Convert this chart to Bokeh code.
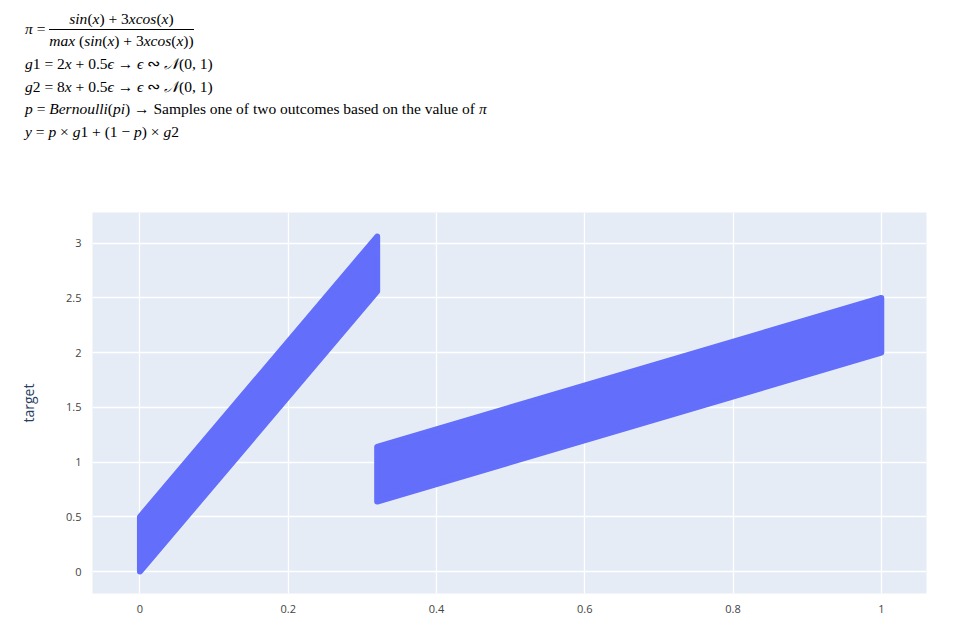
from bokeh.plotting import figure
from bokeh.models import Div, Range1d, FixedTicker
from bokeh.layouts import column
from bokeh.embed import file_html
from bokeh.resources import INLINE

# band corners (x, lower/upper y)
band1_x = [0.0, 0.32]
band1_lo = [0.0, 2.56]
band1_hi = [0.5, 3.06]
band2_x = [0.32, 1.0]
band2_lo = [0.64, 2.0]
band2_hi = [1.14, 2.5]
x_ticks = [0, 0.2, 0.4, 0.6, 0.8, 1]
y_ticks = [0, 0.5, 1, 1.5, 2, 2.5, 3]

title_html = """
<div style="font-family:'Liberation Serif';font-size:15.5px;color:#000;line-height:22.5px;padding-left:20px">
<div style="display:flex;align-items:center;height:48px"><i>&pi;</i>&nbsp;=&nbsp;
<div style="display:inline-block;text-align:center;line-height:21px">
<div style="border-bottom:1px solid #000;padding:0 2px"><i>sin</i>(<i>x</i>) + 3<i>xcos</i>(<i>x</i>)</div>
<div><i>max</i> (<i>sin</i>(<i>x</i>) + 3<i>xcos</i>(<i>x</i>))</div></div></div>
<div><i>g</i>1 = 2<i>x</i> + 0.5<i>&#1013;</i> &rarr; <i>&#1013;</i> &#8766; <i>&#119977;</i>(0, 1)</div>
<div><i>g</i>2 = 8<i>x</i> + 0.5<i>&#1013;</i> &rarr; <i>&#1013;</i> &#8766; <i>&#119977;</i>(0, 1)</div>
<div><i>p</i> = <i>Bernoulli</i>(<i>pi</i>) &rarr; Samples one of two outcomes based on the value of <i>&pi;</i></div>
<div><i>y</i> = <i>p</i> &times; <i>g</i>1 + (1 &minus; <i>p</i>) &times; <i>g</i>2</div>
</div>
"""
title = Div(text=title_html, width=960, height=190)

p = figure(width=963, height=415, output_backend="svg", toolbar_location=None,
           x_range=Range1d(-0.064, 1.061), y_range=Range1d(-0.2, 3.28),
           min_border_left=92, min_border_right=37, min_border_top=12, min_border_bottom=19)
p.background_fill_color = "#E5ECF6"
p.outline_line_color = None
p.grid.grid_line_color = "white"
p.grid.grid_line_width = 1.3
for ax in (p.xaxis[0], p.yaxis[0]):
    ax.axis_line_color = None
    ax.major_tick_line_color = None
    ax.minor_tick_line_color = None
    ax.major_label_text_font = "Open Sans"
    ax.major_label_text_font_size = "11px"
    ax.major_label_text_color = "#444"
p.xaxis.ticker = FixedTicker(ticks=x_ticks)
p.yaxis.ticker = FixedTicker(ticks=y_ticks)
p.xaxis.major_label_overrides = {0: "0", 1: "1"}
p.yaxis.major_label_overrides = {0: "0", 1: "1", 2: "2", 3: "3"}
p.yaxis.axis_label = "target"
p.yaxis.axis_label_text_font = "Open Sans"
p.yaxis.axis_label_text_font_style = "normal"
p.yaxis.axis_label_text_font_size = "14px"
p.yaxis.axis_label_text_color = "#2a3f5f"
p.yaxis.axis_label_standoff = 25

for bx, lo, hi in ((band1_x, band1_lo, band1_hi), (band2_x, band2_lo, band2_hi)):
    p.patch(bx + bx[::-1], lo + hi[::-1], fill_color="#636EFA", line_color="#636EFA",
            line_width=6, line_join="round")

open("out.html", "w").write(file_html(column(title, p, spacing=0), INLINE))
